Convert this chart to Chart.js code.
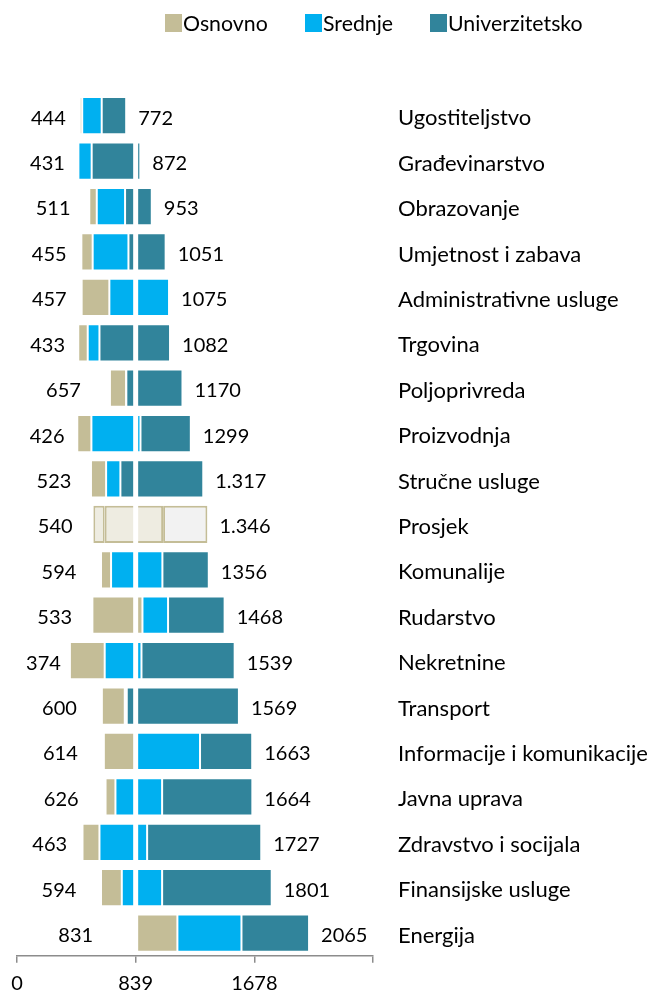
<!DOCTYPE html>
<html>
<head>
<meta charset="utf-8">
<script src="https://cdn.jsdelivr.net/npm/chart.js@4.4.0/dist/chart.umd.min.js"></script>
<style>
  html, body { margin: 0; padding: 0; background: #fff; }
  #wrap { position: relative; width: 657px; height: 994px; }
  #legend { position: absolute; top: 0; left: 0; width: 657px; height: 50px; font-family: Lato, sans-serif; font-size: 21.3px; color: #000; }
  .li { position: absolute; top: 8px; height: 30px; display: flex; align-items: center; white-space: nowrap; }
  .sw { display: inline-block; width: 17px; height: 18px; margin-right: 1px; }
  canvas { position: absolute; top: 0; left: 0; }
</style>
</head>
<body>
<div id="wrap">
  <canvas id="c" width="657" height="994"></canvas>
  <div id="legend"></div>
</div>
<script>
// ---- data ----
const categories = ['Ugostiteljstvo','Građevinarstvo','Obrazovanje','Umjetnost i zabava','Administrativne usluge','Trgovina','Poljoprivreda','Proizvodnja','Stručne usluge','Prosjek','Komunalije','Rudarstvo','Nekretnine','Transport','Informacije i komunikacije','Javna uprava','Zdravstvo i socijala','Finansijske usluge','Energija'];
const seriesNames = ['Osnovno','Srednje','Univerzitetsko'];
const minVals    = [444,431,511,455,457,433,657,426,523,540,594,533,374,600,614,626,463,594,831];
const osnovnoEnd = [461,434,564,535,653,500,771,526,630,620,665,887,620,762,845,696,583,741,1134];
const srednjeEnd = [599,528,764,788,1075,583,773,873,731,1033,1028,1068,880,776,1294,1026,920,1026,1587];
const maxVals    = [772,872,953,1051,1075,1082,1170,1229,1317,1346,1356,1468,1539,1569,1663,1664,1727,1801,2065];
const minLabels  = ['444','431','511','455','457','433','657','426','523','540','594','533','374','600','614','626','463','594','831'];
const maxLabels  = ['772','872','953','1051','1075','1082','1170','1299','1.317','1.346','1356','1468','1539','1569','1663','1664','1727','1801','2065'];
const tickStep = 839;
const axisMax = 2517;
const gapValue = 839;

// ---- styles ----
const colors = ['#C4BD97','#00B0F0','#31849B'];
const avgFills = ['#EEECE1','#EEECE1','#F2F2F2'];
const avgBorder = '#C4BD97';
const AVG = categories.indexOf('Prosjek');
const FONT = 'Lato';

// legend (HTML)
const legendPos = [165, 305, 430];
const lg = document.getElementById('legend');
seriesNames.forEach((n, k) => {
  const d = document.createElement('div');
  d.className = 'li';
  d.style.left = legendPos[k] + 'px';
  d.innerHTML = '<span class="sw" style="background:' + colors[k] + '"></span><span>' + n + '</span>';
  lg.appendChild(d);
});

const bounds = [minVals, osnovnoEnd, srednjeEnd, maxVals];
const datasets = seriesNames.map((name, k) => ({
  label: name,
  data: categories.map((_, i) => [bounds[k][i], bounds[k + 1][i]]),
  backgroundColor: categories.map((_, i) => i === AVG ? avgFills[k] : colors[k]),
  borderColor: categories.map((_, i) => i === AVG ? avgBorder : 'rgba(255,255,255,0.4)'),
  borderWidth: categories.map((_, i) => i === AVG ? 2 : 1),
  borderSkipped: false,
  grouped: false,
  barPercentage: 0.82,
  categoryPercentage: 1
}));

const overlay = {
  id: 'overlay',
  afterDatasetsDraw(chart) {
    const { ctx, chartArea, scales: { x, y } } = chart;
    ctx.save();
    const gx = x.getPixelForValue(gapValue);
    ctx.fillStyle = '#ffffff';
    ctx.fillRect(gx - 2.5, chartArea.top, 5, chartArea.bottom - chartArea.top - 1);
    ctx.fillStyle = '#000';
    ctx.font = '20px ' + FONT;
    ctx.textBaseline = 'middle';
    categories.forEach((c, i) => {
      const yy = y.getPixelForValue(i) + 2.5;
      ctx.textAlign = 'center';
      ctx.fillText(minLabels[i], x.getPixelForValue(minVals[i] / 2), yy);
      ctx.textAlign = 'left';
      ctx.fillText(maxLabels[i], x.getPixelForValue(maxVals[i]) + 12, yy);
    });
    ctx.restore();
  }
};

new Chart(document.getElementById('c'), {
  type: 'bar',
  data: { labels: categories, datasets },
  plugins: [overlay],
  options: {
    indexAxis: 'y',
    responsive: false,
    animation: false,
    devicePixelRatio: 1,
    layout: { padding: { top: 93, left: 17, right: 0, bottom: 0 } },
    plugins: { legend: { display: false }, tooltip: { enabled: false } },
    scales: {
      x: {
        type: 'linear',
        min: 0,
        max: axisMax,
        afterFit(s) { s.height = 36; },
        ticks: {
          stepSize: tickStep,
          autoSkip: false,
          maxRotation: 0,
          padding: 9,
          color: '#000',
          font: { family: FONT, size: 20 },
          callback: (v) => (v === axisMax ? '' : String(v))
        },
        grid: { drawOnChartArea: false, drawTicks: true, tickLength: 7, color: '#8c8c8c', lineWidth: 1.5 },
        border: { display: true, color: '#8c8c8c', width: 1.5 }
      },
      y: {
        type: 'category',
        position: 'right',
        afterFit(s) { s.width = 284; },
        grid: { display: false, drawTicks: false },
        border: { display: false },
        ticks: {
          padding: 25,
          labelOffset: 2.5,
          color: '#000',
          crossAlign: 'near',
          font: { family: FONT, size: 22 }
        }
      }
    }
  }
});
</script>
</body>
</html>
